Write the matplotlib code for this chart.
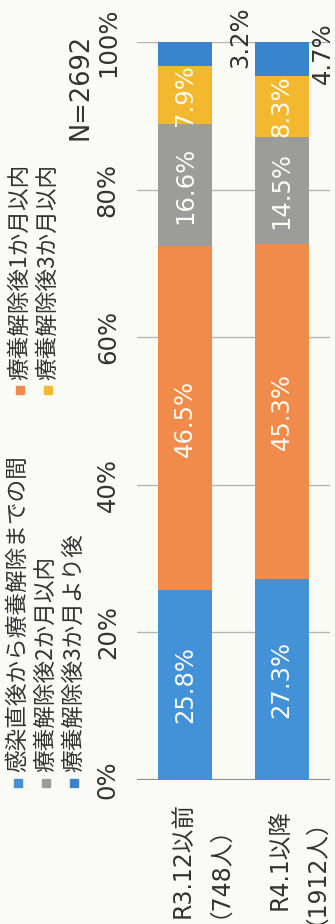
import matplotlib
matplotlib.use("Agg")
import matplotlib.pyplot as plt
from matplotlib.patches import Rectangle
from matplotlib.transforms import blended_transform_factory

plt.rcParams['font.family'] = ['DejaVu Sans', 'Noto Sans CJK JP']
JP = ['Noto Sans CJK JP', 'DejaVu Sans']

# data
groups = ["R3.12以前\n（748人）", "R4.1以降\n（1912人）"]
series_names = ["感染直後から療養解除までの間", "療養解除後1か月以内",
                "療養解除後2か月以内", "療養解除後3か月以内", "療養解除後3か月より後"]
shares = [
    [25.8, 27.3],
    [46.5, 45.3],
    [16.6, 14.5],
    [7.9, 8.3],
    [3.2, 4.7],
]
total_n = 2692
pct_ticks = [0, 20, 40, 60, 80, 100]

colors = ["#4391d6", "#f08b4b", "#9c9c9a", "#f4b730", "#3a84cd"]
bg = "#fbfbf6"
txt = "#333333"

W, H = 335, 924
fig = plt.figure(figsize=(W / 100, H / 100), dpi=100, facecolor=bg)

# axes box in pixels: x 137..330, y 42..780 (0% at the bottom)
ax = fig.add_axes([137 / W, 1 - 780 / H, 193 / W, 738 / H])
ax.set_facecolor(bg)
ax.set_xlim(-0.5, 1.5)
ax.set_ylim(0, 100)
for s in ax.spines.values():
    s.set_visible(False)

ax.set_yticks(pct_ticks)
ax.set_yticklabels([f"{t}%" for t in pct_ticks], rotation=90, va="center",
                   ha="center", fontsize=17.5, color=txt)
ax.tick_params(axis="y", length=0, pad=21)
ax.set_xticks([])
ax.yaxis.grid(True, color="#b5b5b5", lw=1.0)
ax.set_axisbelow(True)
ax.axhline(0, color="#8f8f8f", lw=1.6, zorder=1)

xs = list(range(len(groups)))
bar_w = 0.5625
bottoms = [0.0] * len(groups)
for k, vals in enumerate(shares):
    ax.bar(xs, vals, bar_w, bottom=bottoms, color=colors[k], zorder=2)
    for i, v in enumerate(vals):
        if v >= 5:
            ax.text(xs[i], bottoms[i] + v / 2, f"{v}%", rotation=90,
                    ha="center", va="center", color="#fdfcf4", fontsize=17.5,
                    zorder=3)
    bottoms = [b + v for b, v in zip(bottoms, vals)]

# small top segments are labelled beside the bar
outside_dx = [0.57, 0.43]
outside_y = [100.7, 98.5]
for i, v in enumerate(shares[-1]):
    ax.text(xs[i] + outside_dx[i], outside_y[i], f"{v}%", rotation=90,
            ha="center", va="center", color=txt, fontsize=17.5, clip_on=False)

# group labels under the axis
tr = blended_transform_factory(ax.transData, ax.transAxes)
for i, g in enumerate(groups):
    ax.text(xs[i] + 0.1, -0.108, g, transform=tr, rotation=90, ha="center",
            va="center", multialignment="center", linespacing=1.0,
            fontsize=17, color=txt)

fig.text(81 / W, 1 - 140 / H, f"N={total_n}", rotation=90, ha="center",
         va="bottom", fontsize=18.5, color=txt)

# legend, written sideways
legend_pos = [(18, 783, 772), (20, 390, 380), (46, 783, 772), (48, 390, 380),
              (74, 783, 772)]
for k, (mx, my, ty) in enumerate(legend_pos):
    fig.patches.append(Rectangle(((mx - 4) / W, 1 - (my + 4) / H), 8 / W, 8 / H,
                                 transform=fig.transFigure, color=colors[k]))
    fig.text(mx / W, 1 - ty / H, series_names[k], rotation=90, ha="center",
             va="bottom", fontsize=16.3, color=txt, family=JP)

fig.savefig("out.png", dpi=100, facecolor=bg)
